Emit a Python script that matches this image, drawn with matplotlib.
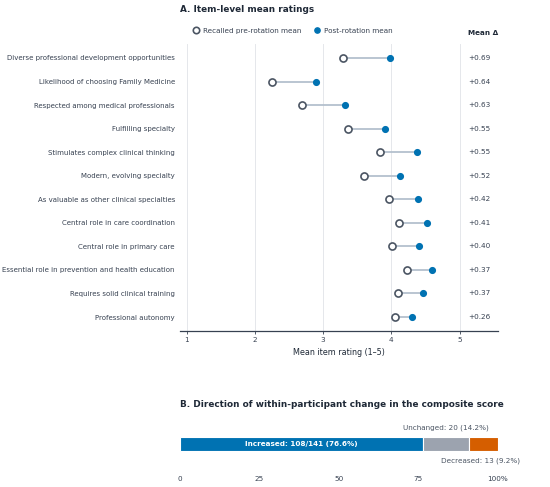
import matplotlib

matplotlib.use("Agg")

import matplotlib.pyplot as plt
from matplotlib.lines import Line2D

# item-level means (panel A)
items = [
    "Diverse professional development opportunities",
    "Likelihood of choosing Family Medicine",
    "Respected among medical professionals",
    "Fulfilling specialty",
    "Stimulates complex clinical thinking",
    "Modern, evolving specialty",
    "As valuable as other clinical specialties",
    "Central role in care coordination",
    "Central role in primary care",
    "Essential role in prevention and health education",
    "Requires solid clinical training",
    "Professional autonomy",
]
pre_means = [3.29, 2.25, 2.69, 3.36, 3.83, 3.60, 3.97, 4.11, 4.01, 4.23, 4.10, 4.05]
post_means = [3.98, 2.89, 3.32, 3.91, 4.38, 4.12, 4.39, 4.52, 4.41, 4.60, 4.47, 4.31]
mean_deltas = [0.69, 0.64, 0.63, 0.55, 0.55, 0.52, 0.42, 0.41, 0.40, 0.37, 0.37, 0.26]

# composite score direction (panel B)
n_total = 141
direction_labels = ["Increased", "Unchanged", "Decreased"]
direction_counts = [108, 20, 13]
direction_pcts = [76.6, 14.2, 9.2]

BLUE = "#0072B2"
ORANGE = "#D55E00"
GREY = "#9CA3AF"
DARK = "#1F2937"
EDGE = "#4B5563"
LINK = "#B4C0CE"
TXT = "#374151"

plt.rcParams["font.family"] = "DejaVu Sans"
FS = 5.2

fig = plt.figure(figsize=(5.5, 4.87), dpi=100)

# ---- Panel A ----
ax = fig.add_axes([0.327, 0.320, 0.578, 0.590])
rows = list(range(len(items)))
for r, a, b in zip(rows, pre_means, post_means):
    ax.plot([a, b], [r, r], color=LINK, lw=1.3, zorder=1, solid_capstyle="butt")
ax.scatter(pre_means, rows, s=26, facecolor="white", edgecolor=EDGE, linewidth=1.2, zorder=3)
ax.scatter(post_means, rows, s=17, color=BLUE, zorder=3)

ax.set_xlim(0.9, 5.56)
ax.set_ylim(len(items) - 0.4, -0.6)
ax.set_xticks([1, 2, 3, 4, 5])
ax.set_yticks(rows)
ax.set_yticklabels(items, fontsize=5.05, color=TXT)
ax.tick_params(axis="y", length=0, pad=3.5)
ax.tick_params(axis="x", labelsize=FS, colors=TXT, length=2.5, width=0.6, pad=2)
ax.xaxis.grid(True, color="#E5E7EB", lw=0.7)
ax.set_axisbelow(True)
for side in ["top", "right", "left"]:
    ax.spines[side].set_visible(False)
ax.spines["bottom"].set_color("#374151")
ax.spines["bottom"].set_linewidth(0.9)
ax.set_xlabel("Mean item rating (1–5)", fontsize=FS + 0.6, color=DARK, labelpad=3)

for r, d in zip(rows, mean_deltas):
    ax.text(5.13, r, f"+{d:.2f}", fontsize=FS, color=TXT, va="center", ha="left")
ax.text(5.13, -1.05, "Mean Δ", fontsize=FS, color=DARK, fontweight="bold",
        va="center", ha="left")

handles = [
    Line2D([], [], marker="o", ls="", markerfacecolor="white", markeredgecolor=EDGE,
           markeredgewidth=1.2, markersize=4.6, label="Recalled pre-rotation mean"),
    Line2D([], [], marker="o", ls="", color=BLUE, markersize=3.8, label="Post-rotation mean"),
]
leg = ax.legend(handles=handles, ncol=2, loc="center", bbox_to_anchor=(0.355, 1.045),
                frameon=False, fontsize=FS, handletextpad=0.5, columnspacing=1.6,
                handlelength=1.0, borderaxespad=0)
for t in leg.get_texts():
    t.set_color(TXT)

fig.text(0.327, 0.981, "A. Item-level mean ratings", fontsize=FS + 1.2,
         fontweight="bold", color=DARK, va="center", ha="left")

# ---- Panel B ----
bx = fig.add_axes([0.327, 0.039, 0.578, 0.099])
colors = [BLUE, GREY, ORANGE]
left = 0.0
for pct, c in zip(direction_pcts, colors):
    bx.barh(0, pct, left=left, height=0.55, color=c, edgecolor="white", linewidth=0.8)
    left += pct
bx.set_xlim(0, 100)
bx.set_ylim(-1, 1)
bx.set_yticks([])
bx.set_xticks([0, 25, 50, 75, 100])
bx.set_xticklabels(["0", "25", "50", "75", "100%"])
bx.tick_params(axis="x", length=0, labelsize=FS, colors=TXT, pad=6)
for s in bx.spines.values():
    s.set_visible(False)

bx.text(direction_pcts[0] / 2, 0,
        f"{direction_labels[0]}: {direction_counts[0]}/{n_total} ({direction_pcts[0]:.1f}%)",
        color="white", fontweight="bold", fontsize=FS, ha="center", va="center")
bx.text(direction_pcts[0] + direction_pcts[1] / 2, 0.66,
        f"{direction_labels[1]}: {direction_counts[1]} ({direction_pcts[1]:.1f}%)",
        color="#4B5563", fontsize=FS, ha="center", va="center")
bx.text(107, -0.7,
        f"{direction_labels[2]}: {direction_counts[2]} ({direction_pcts[2]:.1f}%)",
        color="#4B5563", fontsize=FS, ha="right", va="center")

fig.text(0.327, 0.170, "B. Direction of within-participant change in the composite score",
         fontsize=FS + 1.2, fontweight="bold", color=DARK, va="center", ha="left")

fig.savefig("out.png", dpi=100)
